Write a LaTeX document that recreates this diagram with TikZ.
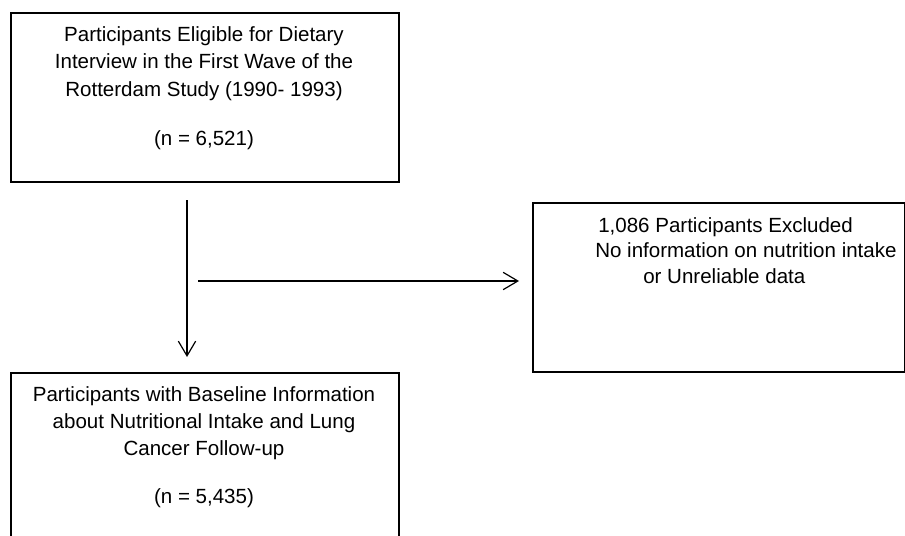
\documentclass[tikz,border=0pt]{standalone}
\usepackage{fontspec}
\setmainfont{Liberation Sans}
\usetikzlibrary{arrows.meta}
\begin{document}
\begin{tikzpicture}[x=0.75pt,y=-0.75pt,
  boxnode/.style={draw=black,line width=1.2pt,rectangle,inner sep=0pt,anchor=north west},
  txt/.style={font=\fontsize{15.4}{18}\selectfont,inner sep=0pt,anchor=base},
  txtl/.style={txt,anchor=base west},
  arr/.style={line width=0.9pt,-{Straight Barb[length=11pt,width=13pt]}}]
\useasboundingbox (0,0) rectangle (905,535);
\clip (0,0) rectangle (905,535);

% boxes
\node[boxnode,minimum width=291pt,minimum height=126.75pt] (top) at (10,12) {};
\node[boxnode,minimum width=279pt,minimum height=126.75pt] (excl) at (532,202) {};
\node[boxnode,minimum width=291pt,minimum height=141pt] (bot) at (10,372) {};

% top box text
\node[txt] (t1) at (204,41) {Participants Eligible for Dietary};
\node[txt] (t2) at (204,69) {Interview in the First Wave of the};
\node[txt] (t3) at (204,96) {Rotterdam Study (1990- 1993)};
\node[txt] (t4) at (204,145) {(n = 6,521)};

% excluded box text
\node[txtl] (e1) at (598,232) {1,086 Participants Excluded};
\node[txtl] (e2) at (595,257) {No information on nutrition intake};
\node[txtl] (e3) at (643,283) {or Unreliable data};

% bottom box text
\node[txt] (b1) at (204,401) {Participants with Baseline Information};
\node[txt] (b2) at (204,428) {about Nutritional Intake and Lung};
\node[txt] (b3) at (204,455) {Cancer Follow-up};
\node[txt] (b4) at (204,503) {(n = 5,435)};

% connectors
\coordinate (vs) at (187,200);
\coordinate (ve) at (187,357);
\coordinate (hs) at (198,281);
\coordinate (he) at (519,281);
\draw[arr] (vs) -- (ve);
\draw[arr] (hs) -- (he);
\end{tikzpicture}
\end{document}
